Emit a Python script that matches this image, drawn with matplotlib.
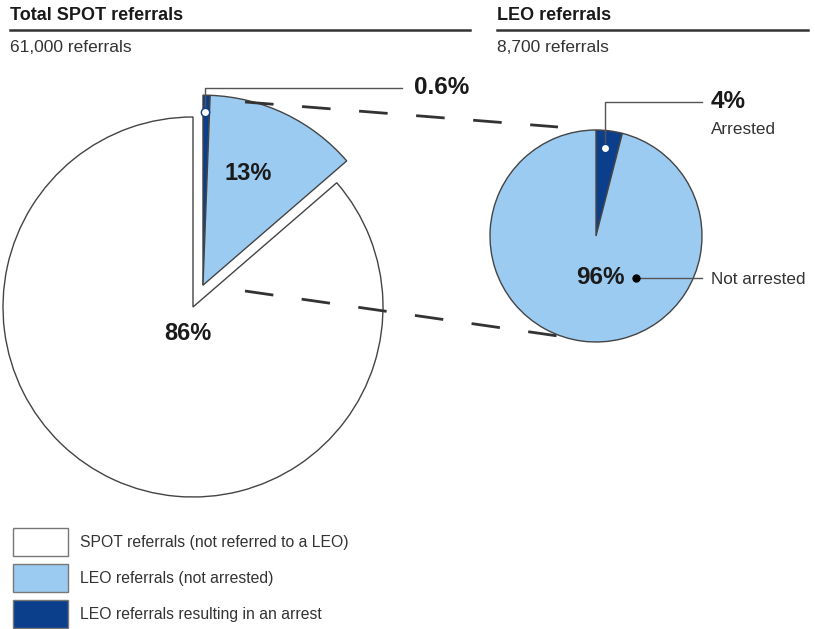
import matplotlib.pyplot as plt
from matplotlib.patches import Rectangle
import numpy as np

# datos
total_vals = [0.6, 13, 86]
total_labels = ['0.6%', '13%', '86%']
leo_vals = [4, 96]
leo_labels = ['4%', '96%']
leo_names = ['Arrested', 'Not arrested']
titulos = ['Total SPOT referrals', 'LEO referrals']
subtitulos = ['61,000 referrals', '8,700 referrals']
legend_labels = ['SPOT referrals (not referred to a LEO)',
                 'LEO referrals (not arrested)',
                 'LEO referrals resulting in an arrest']

oscuro = '#0b3f8c'
claro = '#9ccbf2'
borde = '#444444'
texto = '#1a1a1a'

plt.rcParams['font.family'] = ['Liberation Sans', 'DejaVu Sans']

H = 629
fig = plt.figure(figsize=(8.15, 6.29), dpi=100)
ax = fig.add_axes([0, 0, 1, 1])

# pie grande
cx, cy, r = 193, H - 307, 190
wedges, _ = ax.pie(total_vals, colors=[oscuro, claro, 'white'], startangle=90,
                   counterclock=False, center=(cx, cy), radius=r,
                   wedgeprops=dict(edgecolor=borde, linewidth=1))
# separar la parte LEO
frac_leo = (total_vals[0] + total_vals[1]) / sum(total_vals)
ang = np.deg2rad(90 - 180 * frac_leo)
dx, dy = 24 * np.cos(ang), 24 * np.sin(ang)
for w in wedges[:2]:
    w.set_center((cx + dx, cy + dy))

# pie chico
cx2, cy2, r2 = 596, H - 236, 106
ax.pie(leo_vals, colors=[oscuro, claro], startangle=90, counterclock=False,
       center=(cx2, cy2), radius=r2,
       wedgeprops=dict(edgecolor=borde, linewidth=1))

# lineas punteadas
ax.plot([245, 558], [H - 102, H - 127], color='#333333', lw=2,
        linestyle=(0, (10.3, 10.3)))
ax.plot([245, 558], [H - 291, H - 336], color='#333333', lw=2,
        linestyle=(0, (10.3, 10.3)))

# etiquetas
ax.plot([205, 205, 402], [H - 112, H - 88, H - 88], color='#555555', lw=1)
ax.plot(205, H - 112, 'o', mfc='white', mec=oscuro, ms=6)
ax.text(414, H - 88, total_labels[0], fontsize=17.5, fontweight='bold',
        color=texto, va='center')
ax.text(248, H - 173, total_labels[1], fontsize=17, fontweight='bold',
        color=texto, ha='center', va='center')
ax.text(188, H - 333, total_labels[2], fontsize=17, fontweight='bold',
        color=texto, ha='center', va='center')

ax.plot([605, 605, 702], [H - 148, H - 102, H - 102], color='#555555', lw=1)
ax.plot(605, H - 148, 'o', mfc='white', mec=oscuro, ms=6)
ax.text(711, H - 101, leo_labels[0], fontsize=17.5, fontweight='bold',
        color=texto, va='center')
ax.text(711, H - 130, leo_names[0], fontsize=12.3, color='#333333', va='center')

ax.plot([636, 702], [H - 278, H - 278], color='#555555', lw=1)
ax.plot(636, H - 278, 'o', color='black', ms=5)
ax.text(625, H - 278, leo_labels[1], fontsize=17.5, fontweight='bold',
        color=texto, ha='right', va='center')
ax.text(711, H - 279, leo_names[1], fontsize=12.3, color='#333333', va='center')

# titulos
for x0, x1, t, s in zip([10, 497], [470, 808], titulos, subtitulos):
    ax.text(x0, H - 16, t, fontsize=13, fontweight='bold', color=texto, va='center')
    ax.plot([x0, x1], [H - 30, H - 30], color='#333333', lw=1.8)
    ax.text(x0, H - 47, s, fontsize=12.5, color='#333333', va='center')

# leyenda
for i, (lab, col) in enumerate(zip(legend_labels, ['white', claro, oscuro])):
    y = 528 + 36 * i
    ax.add_patch(Rectangle((13, H - y - 28), 55, 28, facecolor=col,
                           edgecolor='#777777', lw=1))
    ax.text(80, H - y - 14, lab, fontsize=11.3, color='#333333', va='center')

ax.set_xlim(0, 815)
ax.set_ylim(0, H)
ax.axis('off')
plt.savefig('out.png')
